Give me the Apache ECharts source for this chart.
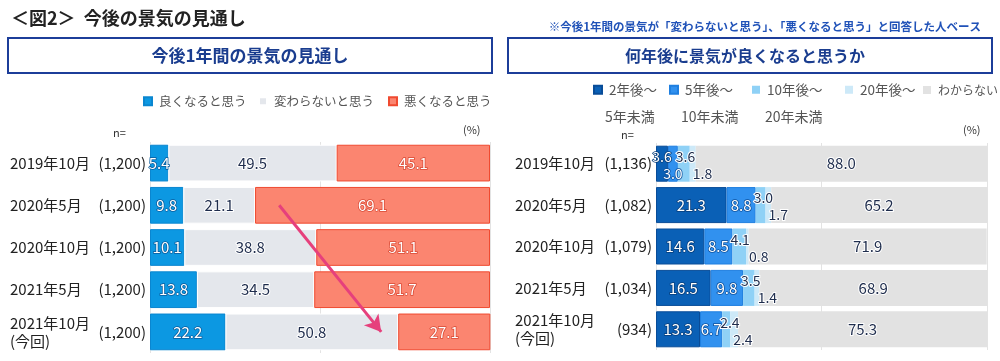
<!DOCTYPE html>
<html>
<head>
<meta charset="utf-8">
<script src="https://cdn.jsdelivr.net/npm/echarts@6/dist/echarts.min.js"></script>
<style>
html, body { margin: 0; padding: 0; background: #fff; }
#chart { width: 1000px; height: 361px; }
</style>
</head>
<body>
<div id="chart"></div>
<script>
//調査時期（縦軸カテゴリ）
var periods = ["2019年10月", "2020年5月", "2020年10月", "2021年5月", "2021年10月\n(今回)"];
var leftN = ["(1,200)", "(1,200)", "(1,200)", "(1,200)", "(1,200)"];
var rightN = ["(1,136)", "(1,082)", "(1,079)", "(1,034)", "(934)"];

//今後1年間の景気の見通し (%)
var better = [5.4, 9.8, 10.1, 13.8, 22.2];
var same = [49.5, 21.1, 38.8, 34.5, 50.8];
var worse = [45.1, 69.1, 51.1, 51.7, 27.1];

//何年後に景気が良くなると思うか (%)
var after2 = [3.6, 21.3, 14.6, 16.5, 13.3];
var after5 = [3.0, 8.8, 8.5, 9.8, 6.7];
var after10 = [3.6, 3.0, 4.1, 3.5, 2.4];
var after20 = [1.8, 1.7, 0.8, 1.4, 2.4];
var unknown = [88.0, 65.2, 71.9, 68.9, 75.3];

var FONT = "Noto Sans CJK JP";
var NAVY = "#1f2d4d";

var chart = echarts.init(document.getElementById("chart"));

//白抜き文字
var whiteLabel = function (outline) {
	return {
		show: true, color: "#fff", fontSize: 15, fontFamily: FONT,
		textBorderColor: outline, textBorderWidth: 1.5,
		formatter: function (p) { return p.value.toFixed(1); }
	};
};
var darkLabel = {
	show: true, color: NAVY, fontSize: 15, fontFamily: FONT,
	textBorderColor: "#fff", textBorderWidth: 2,
	formatter: function (p) { return p.value.toFixed(1); }
};

//右グラフの小さい値は上下に振り分ける
//k: 0=2年後 1=5年後 2=10年後 3=20年後
function rightData(arr, k) {
	return arr.map(function (v) {
		if (v >= 5) return v;
		var upper = (k % 2 === 0);
		return {
			value: v,
			label: {
				position: k < 2 ? "inside" : "insideLeft",
				distance: 0,
				offset: [k < 2 ? 0 : (upper ? -2 : 3), upper ? -7 : 10],
				fontSize: 14
			}
		};
	});
}

function catAxes(gridIndex, nList, dateMargin) {
	return [{
		type: "category", gridIndex: gridIndex, data: periods, inverse: true, position: "left",
		axisLine: { show: false }, axisTick: { show: false },
		axisLabel: { align: "left", margin: dateMargin, color: "#222", fontSize: 15, fontFamily: FONT, lineHeight: 18 }
	}, {
		type: "category", gridIndex: gridIndex, data: nList, inverse: true, position: "left",
		axisLine: { show: false }, axisTick: { show: false },
		axisLabel: { align: "right", margin: 4, color: "#222", fontSize: 15, fontFamily: FONT }
	}];
}

function valAxis(gridIndex) {
	return {
		type: "value", gridIndex: gridIndex, min: 0, max: 100, interval: 50,
		axisLine: { show: false }, axisTick: { show: false }, axisLabel: { show: false },
		splitLine: { show: true, lineStyle: { color: "#e3e3e3", width: 1 } }
	};
}

//凡例は1項目ずつ配置
function legendItem(name, left, top, fontSize) {
	return {
		data: [name], left: left, top: top, icon: "rect", itemWidth: 8, itemHeight: 8,
		padding: 0,
		textStyle: { fontSize: fontSize, color: "#555", fontFamily: FONT, padding: [0, 0, 0, 2] }
	};
}

var leftBar = { type: "bar", stack: "L", xAxisIndex: 0, yAxisIndex: 0, barCategoryGap: "13%" };
var rightBar = { type: "bar", stack: "R", xAxisIndex: 1, yAxisIndex: 2, barCategoryGap: "13%" };

var option = {
	animation: false,
	textStyle: { fontFamily: FONT },
	title: [{
		text: "＜図2＞  今後の景気の見通し", left: 6, top: 4,
		textStyle: { fontSize: 18, fontWeight: "bold", color: "#222", fontFamily: FONT }
	}],
	graphic: [
		{ type: "rect", shape: { x: 8, y: 38, width: 484, height: 35 }, style: { fill: "#fff", stroke: "#1c3d99", lineWidth: 2 } },
		{ type: "text", x: 250, y: 56, style: { text: "今後1年間の景気の見通し", font: "bold 17px '" + FONT + "'", fill: "#1a3d8f", align: "center", verticalAlign: "middle" } },
		{ type: "rect", shape: { x: 508, y: 38, width: 484, height: 35 }, style: { fill: "#fff", stroke: "#1c3d99", lineWidth: 2 } },
		{ type: "text", x: 745, y: 56, style: { text: "何年後に景気が良くなると思うか", font: "bold 16px '" + FONT + "'", fill: "#1a3d8f", align: "center", verticalAlign: "middle" } },
		{ type: "text", x: 981, y: 27, style: { text: "※今後1年間の景気が「変わらないと思う」、「悪くなると思う」と回答した人ベース", font: "bold 11.5px '" + FONT + "'", fill: "#2052b8", align: "right", verticalAlign: "middle" } },
		{ type: "text", x: 113, y: 133, style: { text: "n=", font: "11px '" + FONT + "'", fill: "#333", verticalAlign: "middle" } },
		{ type: "text", x: 463, y: 130, style: { text: "(%)", font: "11px '" + FONT + "'", fill: "#333", verticalAlign: "middle" } },
		{ type: "text", x: 621, y: 135, style: { text: "n=", font: "11px '" + FONT + "'", fill: "#333", verticalAlign: "middle" } },
		{ type: "text", x: 963, y: 130, style: { text: "(%)", font: "11px '" + FONT + "'", fill: "#333", verticalAlign: "middle" } },
		{ type: "text", x: 605, y: 117, style: { text: "5年未満", font: "14px '" + FONT + "'", fill: "#555", verticalAlign: "middle" } },
		{ type: "text", x: 681, y: 117, style: { text: "10年未満", font: "14px '" + FONT + "'", fill: "#555", verticalAlign: "middle" } },
		{ type: "text", x: 765, y: 117, style: { text: "20年未満", font: "14px '" + FONT + "'", fill: "#555", verticalAlign: "middle" } }
	],
	legend: [
		legendItem("良くなると思う", 143, 95, 12.5),
		legendItem("変わらないと思う", 258, 95, 12.5),
		legendItem("悪くなると思う", 388, 95, 12.5),
		legendItem("2年後～", 593, 83, 13.5),
		legendItem("5年後～", 669, 83, 13.5),
		legendItem("10年後～", 752, 83, 13.5),
		legendItem("20年後～", 845, 83, 13.5),
		legendItem("わからない", 923, 84, 12)
	],
	grid: [
		{ left: 150, right: 510, top: 142, bottom: 8 },
		{ left: 656, right: 13, top: 143, bottom: 11 }
	],
	xAxis: [valAxis(0), valAxis(1)],
	yAxis: catAxes(0, leftN, 140).concat(catAxes(1, rightN, 141)),
	series: [
		Object.assign({}, leftBar, {
			name: "良くなると思う", data: better,
			itemStyle: { color: "#0c98e2", borderColor: "#0a86d0", borderWidth: 1 },
			label: whiteLabel("#0b5a9a")
		}),
		Object.assign({}, leftBar, {
			name: "変わらないと思う", data: same,
			itemStyle: { color: "#e4e7ec", borderColor: "#fff", borderWidth: 1 },
			label: darkLabel
		}),
		Object.assign({}, leftBar, {
			name: "悪くなると思う", data: worse,
			itemStyle: { color: "#fb8570", borderColor: "#f04a30", borderWidth: 1 },
			label: whiteLabel("#d94a35"),
			markLine: {
				silent: true, symbol: ["none", "arrow"], symbolSize: [14, 16],
				label: { show: false },
				lineStyle: { color: "#e6407c", width: 3, type: "solid" },
				data: [[{ coord: [38, periods[1]] }, { coord: [68, periods[4]] }]]
			}
		}),
		Object.assign({}, rightBar, {
			name: "2年後～", data: rightData(after2, 0),
			itemStyle: { color: "#0a60b6", borderColor: "#084c98", borderWidth: 1 },
			label: whiteLabel("#073d7a")
		}),
		Object.assign({}, rightBar, {
			name: "5年後～", data: rightData(after5, 1),
			itemStyle: { color: "#3191ef", borderColor: "#1f7fe0", borderWidth: 1 },
			label: whiteLabel("#0d4f9a")
		}),
		Object.assign({}, rightBar, {
			name: "10年後～", data: rightData(after10, 2),
			itemStyle: { color: "#8fd1f6" },
			label: darkLabel
		}),
		Object.assign({}, rightBar, {
			name: "20年後～", data: rightData(after20, 3),
			itemStyle: { color: "#cde9f8" },
			label: darkLabel
		}),
		Object.assign({}, rightBar, {
			name: "わからない", data: unknown,
			itemStyle: { color: "#e2e2e2" },
			label: darkLabel
		})
	]
};

chart.setOption(option);
</script>
</body>
</html>
